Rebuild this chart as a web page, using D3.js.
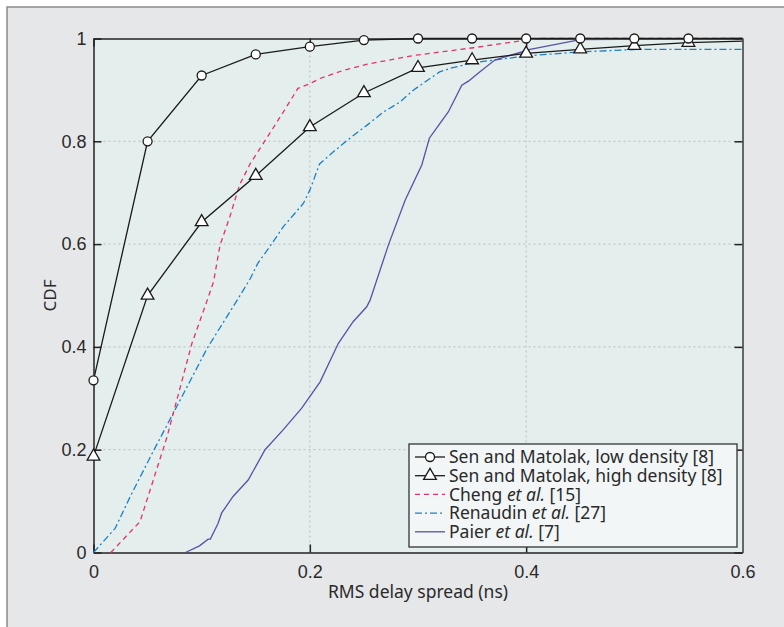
<!DOCTYPE html>
<html>
<head>
<meta charset="utf-8">
<script src="https://cdn.jsdelivr.net/npm/d3@7"></script>
<style>
  body { margin: 0; background: #fff; }
  svg { display: block; font-family: "Noto Sans", "Open Sans", sans-serif; }
</style>
</head>
<body>
<div id="chart"></div>
<script>
// RMS delay spread CDF comparison

const xTicks = [0, 0.2, 0.4, 0.6];
const yTicks = [0, 0.2, 0.4, 0.6, 0.8, 1];

// Sen and Matolak, measured points
const senX = [0, 0.05, 0.1, 0.15, 0.2, 0.25, 0.3, 0.35, 0.4, 0.45, 0.5, 0.55];
const senLow = [0.335, 0.8, 0.928, 0.969, 0.984, 0.997, 1, 1, 1, 1, 1, 1];
const senHigh = [0.187, 0.5, 0.643, 0.733, 0.828, 0.894, 0.943, 0.958, 0.971, 0.979, 0.986, 0.992];

// Cheng et al.
const chengX = [0.016, 0.043, 0.068, 0.082, 0.091, 0.105, 0.111, 0.117, 0.126, 0.135, 0.145, 0.157, 0.1755, 0.189, 0.2, 0.209, 0.231, 0.253, 0.296, 0.351, 0.4, 0.41, 0.6];
const chengY = [0, 0.06, 0.225, 0.336, 0.407, 0.49, 0.527, 0.598, 0.653, 0.715, 0.757, 0.796, 0.857, 0.903, 0.912, 0.922, 0.938, 0.95, 0.967, 0.982, 0.997, 1, 1];

// Renaudin et al.
const renX = [0, 0.02, 0.034, 0.055, 0.077, 0.105, 0.134, 0.145, 0.152, 0.163, 0.1755, 0.194, 0.2, 0.209, 0.222, 0.237, 0.2526, 0.268, 0.283, 0.296, 0.32, 0.33, 0.351, 0.4, 0.45, 0.505, 0.6];
const renY = [0, 0.047, 0.109, 0.196, 0.284, 0.397, 0.495, 0.533, 0.563, 0.595, 0.634, 0.679, 0.705, 0.756, 0.78, 0.806, 0.831, 0.857, 0.876, 0.9, 0.935, 0.942, 0.953, 0.966, 0.974, 0.979, 0.979];

// Paier et al.
const paierX = [0.085, 0.098, 0.106, 0.108, 0.115, 0.1185, 0.129, 0.143, 0.1586, 0.1755, 0.1925, 0.2095, 0.2264, 0.24, 0.2526, 0.2557, 0.2726, 0.288, 0.3035, 0.3105, 0.319, 0.328, 0.3405, 0.3466, 0.357, 0.371, 0.4036, 0.45, 0.6];
const paierY = [0, 0.013, 0.026, 0.026, 0.056, 0.077, 0.109, 0.141, 0.2, 0.239, 0.281, 0.332, 0.407, 0.449, 0.478, 0.491, 0.598, 0.685, 0.754, 0.806, 0.831, 0.857, 0.909, 0.917, 0.935, 0.958, 0.979, 0.998, 1];

const legendLabels = [
  ["Sen and Matolak, low density [8]"],
  ["Sen and Matolak, high density [8]"],
  ["Cheng ", "et al.", " [15]"],
  ["Renaudin ", "et al.", " [27]"],
  ["Paier ", "et al.", " [7]"]
];

const W = 784, H = 627;
const margin = {left: 93.5, top: 38.5, right: 784 - 742.5, bottom: 627 - 552.5};

const svg = d3.select("#chart").append("svg")
  .attr("width", W).attr("height", H);

// outer grey panel
svg.append("rect").attr("x", 7).attr("y", 7).attr("width", W).attr("height", H)
  .attr("fill", "#e6e7e9").attr("stroke", "#8a8a8a").attr("stroke-width", 1.5);

const x = d3.scaleLinear().domain([0, 0.6]).range([margin.left, W - margin.right]);
const y = d3.scaleLinear().domain([0, 1]).range([H - margin.bottom, margin.top]);

const pw = x(0.6) - x(0), ph = y(0) - y(1);

svg.append("rect").attr("x", x(0)).attr("y", y(1)).attr("width", pw).attr("height", ph)
  .attr("fill", "#e4eeec");

// grid
const grid = svg.append("g").attr("stroke", "#b9bdbd").attr("stroke-dasharray", "2,3").attr("stroke-width", 1);
grid.selectAll(".gx").data(xTicks.slice(1, -1)).join("line")
  .attr("x1", d => x(d)).attr("x2", d => x(d)).attr("y1", y(0)).attr("y2", y(1));
grid.selectAll(".gy").data(yTicks.slice(1, -1)).join("line")
  .attr("x1", x(0)).attr("x2", x(0.6)).attr("y1", d => y(d)).attr("y2", d => y(d));

// axes (inward ticks)
const fmt = d => d === 0 || d === 1 ? String(d) : d3.format(".1f")(d);
const axisStyle = g => {
  g.select(".domain").attr("stroke", "#222").attr("stroke-width", 1.5);
  g.selectAll(".tick line").attr("stroke", "#222").attr("stroke-width", 1.5);
  g.selectAll(".tick text").attr("fill", "#2a2a2a").style("font-size", "18px");
};
svg.append("g").attr("transform", `translate(0,${y(0)})`)
  .call(d3.axisBottom(x).tickValues(xTicks).tickFormat(fmt).tickSizeInner(-8).tickSizeOuter(0).tickPadding(13))
  .call(axisStyle);
svg.append("g").attr("transform", `translate(${x(0)},0)`)
  .call(d3.axisLeft(y).tickValues(yTicks).tickFormat(fmt).tickSizeInner(-8).tickSizeOuter(0).tickPadding(7))
  .call(axisStyle);
svg.append("g").attr("transform", `translate(0,${y(1)})`)
  .call(d3.axisTop(x).tickValues(xTicks).tickFormat("").tickSizeInner(-8).tickSizeOuter(0))
  .call(axisStyle);
svg.append("g").attr("transform", `translate(${x(0.6)},0)`)
  .call(d3.axisRight(y).tickValues(yTicks).tickFormat("").tickSizeInner(-8).tickSizeOuter(0))
  .call(axisStyle)
  .select(".domain").attr("stroke", "#666").attr("stroke-width", 2);

// axis labels
svg.append("text").attr("x", (x(0) + x(0.6)) / 2).attr("y", 598)
  .attr("text-anchor", "middle").attr("fill", "#2a2a2a").style("font-size", "17.5px")
  .text("RMS delay spread (ns)");
svg.append("text").attr("transform", `translate(56,${(y(0) + y(1)) / 2}) rotate(-90)`)
  .attr("text-anchor", "middle").attr("fill", "#2a2a2a").style("font-size", "17px")
  .text("CDF");

const line = d3.line().x(d => x(d[0])).y(d => y(d[1]));
const zip = (a, b) => a.map((v, i) => [v, b[i]]);

const plot = svg.append("g");
plot.append("path").datum(zip(renX, renY)).attr("d", line)
  .attr("fill", "none").attr("stroke", "#1b80c8").attr("stroke-width", 1.3).attr("stroke-dasharray", "7,3,2,3");
plot.append("path").datum(zip(chengX, chengY)).attr("d", line)
  .attr("fill", "none").attr("stroke", "#e8306a").attr("stroke-width", 1.3).attr("stroke-dasharray", "5,4");
plot.append("path").datum(zip(paierX, paierY)).attr("d", line)
  .attr("fill", "none").attr("stroke", "#5a50a8").attr("stroke-width", 1.3);
plot.append("path").datum(zip(senX.concat([0.6]), senHigh.concat([0.995]))).attr("d", line)
  .attr("fill", "none").attr("stroke", "#1a1a1a").attr("stroke-width", 1.3);
plot.append("path").datum(zip(senX.concat([0.6]), senLow.concat([1]))).attr("d", line)
  .attr("fill", "none").attr("stroke", "#1a1a1a").attr("stroke-width", 1.3);

const tri = d3.symbol().type(d3.symbolTriangle).size(70);
plot.selectAll(".tri").data(zip(senX, senHigh)).join("path")
  .attr("d", tri).attr("transform", d => `translate(${x(d[0])},${y(d[1])})`)
  .attr("fill", "#fff").attr("stroke", "#1a1a1a").attr("stroke-width", 1.3);
plot.selectAll(".circ").data(zip(senX, senLow)).join("circle")
  .attr("cx", d => x(d[0])).attr("cy", d => y(d[1])).attr("r", 4.5)
  .attr("fill", "#fff").attr("stroke", "#1a1a1a").attr("stroke-width", 1.3);

// legend
const lg = svg.append("g").attr("transform", "translate(409,444)");
lg.append("rect").attr("width", 328).attr("height", 103)
  .attr("fill", "#f2f6f6").attr("stroke", "#333").attr("stroke-width", 1.3);
const styles = [
  {stroke: "#1a1a1a", dash: null, mark: "circle"},
  {stroke: "#1a1a1a", dash: null, mark: "tri"},
  {stroke: "#e8306a", dash: "5,4"},
  {stroke: "#1b80c8", dash: "7,3,2,3"},
  {stroke: "#5a50a8", dash: null}
];
legendLabels.forEach((parts, i) => {
  const cy = 13 + i * 18.7;
  const s = styles[i];
  lg.append("line").attr("x1", 6).attr("x2", 36).attr("y1", cy).attr("y2", cy)
    .attr("stroke", s.stroke).attr("stroke-width", 1.3).attr("stroke-dasharray", s.dash);
  if (s.mark === "circle") {
    lg.append("circle").attr("cx", 21).attr("cy", cy).attr("r", 4.5)
      .attr("fill", "#fff").attr("stroke", "#1a1a1a").attr("stroke-width", 1.3);
  } else if (s.mark === "tri") {
    lg.append("path").attr("d", tri).attr("transform", `translate(21,${cy})`)
      .attr("fill", "#fff").attr("stroke", "#1a1a1a").attr("stroke-width", 1.3);
  }
  const t = lg.append("text").attr("x", 40).attr("y", cy + 6.3)
    .attr("fill", "#2a2a2a").style("font-size", "17.5px");
  parts.forEach((p, j) => {
    t.append("tspan").text(p).style("font-style", j === 1 ? "italic" : "normal");
  });
});
</script>
</body>
</html>
